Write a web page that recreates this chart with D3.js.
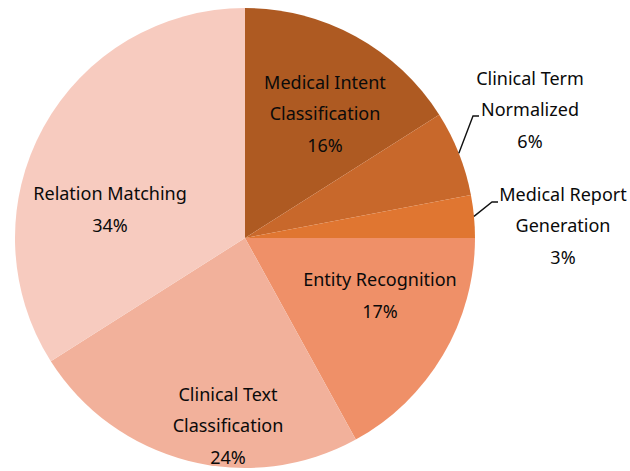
<!DOCTYPE html>
<html>
<head>
<meta charset="utf-8">
<script src="https://cdn.jsdelivr.net/npm/d3@7"></script>
<style>
  body { margin: 0; background: #fff; }
  text { font-family: "Segoe UI", "Noto Sans", sans-serif; font-size: 18px; fill: #0a0a0a; }
</style>
</head>
<body>
<svg class="chart" width="630" height="471"></svg>
<script>
// data, clockwise from 12 o'clock
let tasks = ["Medical Intent Classification", "Clinical Term Normalized", "Medical Report Generation",
             "Entity Recognition", "Clinical Text Classification", "Relation Matching"];
let shares = [16, 6, 3, 17, 24, 34];
let colors = ["#AE5A22", "#C8682B", "#E07631", "#EF9068", "#F2B19B", "#F7CBBF"];

// label lines (how each name wraps)
let labelLines = [
	["Medical Intent", "Classification"],
	["Clinical Term", "Normalized"],
	["Medical Report", "Generation"],
	["Entity Recognition"],
	["Clinical Text", "Classification"],
	["Relation Matching"]
];

var svg = d3.select(".chart");
let cx = 245, cy = 238, radius = 230;
let lineH = 31.5;

// where each label block is centred (relative to pie centre), and whether it has a leader
let labelLayout = [
	{ dx: 80, dy: -124 },
	{ dx: 285, dy: -128, leader: { kx: 228, ky: -122 } },
	{ dx: 318, dy: -12, leader: { kx: 247, ky: -36 } },
	{ dx: 135, dy: 58 },
	{ dx: -17, dy: 188 },
	{ dx: -135, dy: -28 }
];

let pie = d3.pie().sort(null).value(d => d)(shares);
let arc = d3.arc().innerRadius(0).outerRadius(radius);

let g = svg.append("g").attr("transform", `translate(${cx}, ${cy})`);

g.selectAll("path.slice")
 .data(pie)
 .enter().append("path")
 .attr("class", "slice")
 .attr("d", arc)
 .attr("fill", (d, i) => colors[i]);

for (let i = 0; i < pie.length; i++) {
	let lay = labelLayout[i];
	let lines = labelLines[i].concat([shares[i] + "%"]);
	let top = lay.dy - (lines.length - 1) * lineH / 2;

	let t = g.append("text")
	         .attr("text-anchor", "middle");
	lines.forEach((s, j) => {
		t.append("tspan")
		 .attr("x", lay.dx)
		 .attr("y", top + j * lineH + 6)
		 .text(s);
	});

	if (lay.leader) {
		let mid = (pie[i].startAngle + pie[i].endAngle) / 2;
		let px = radius * Math.sin(mid), py = -radius * Math.cos(mid);
		g.append("path")
		 .attr("fill", "none")
		 .attr("stroke", "#111")
		 .attr("stroke-width", 1.4)
		 .attr("d", `M${px},${py}L${lay.leader.kx},${lay.leader.ky}h6`);
	}
}
</script>
</body>
</html>
